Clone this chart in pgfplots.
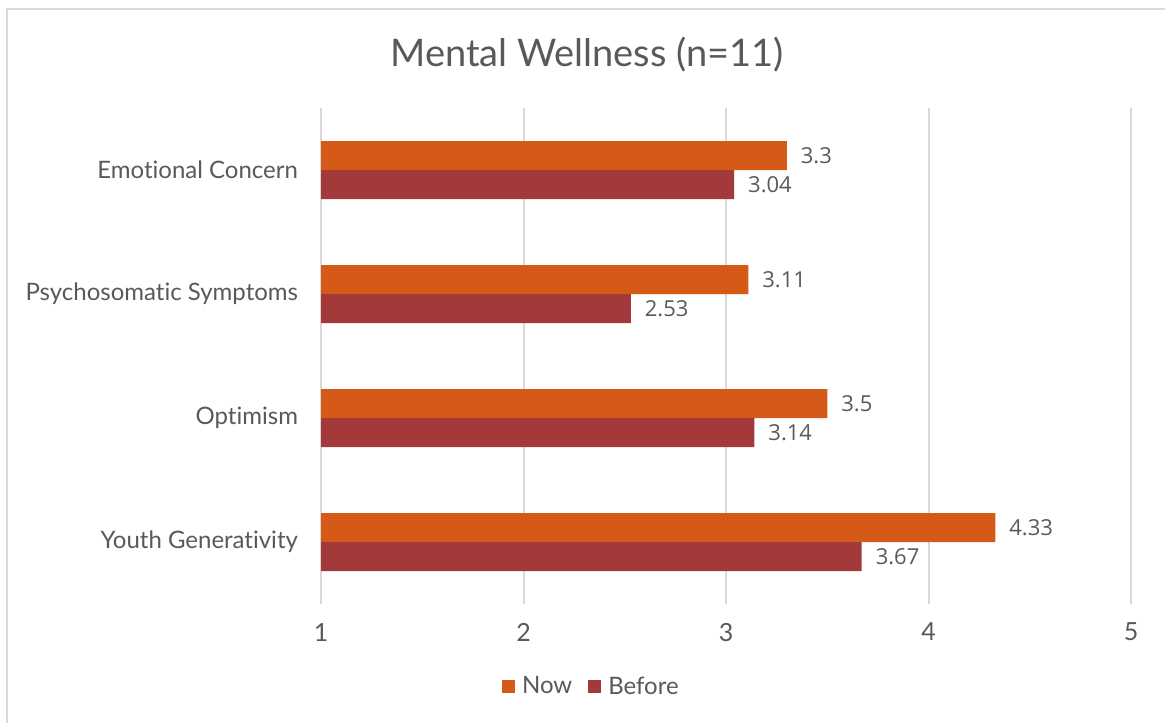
\documentclass[border=0pt]{standalone}
\usepackage{pgfplots}
\pgfplotsset{compat=1.18}
\usepackage{fontspec}
\setmainfont{Lato}[Ligatures={NoCommon,NoRare}]
\newfontfamily\labelfont{Open Sans}
\definecolor{nowc}{HTML}{D55A18}
\definecolor{beforec}{HTML}{A3393A}
\definecolor{gridc}{HTML}{D9D9D9}
\definecolor{textc}{HTML}{595959}
\begin{document}
\begin{tikzpicture}[x=0.5pt,y=0.5pt]
\useasboundingbox (0,0) rectangle (1165,723);
% chart frame
\draw[gridc, line width=1pt] (7,0) -- (7,714) -- (1165,714);
% title
\node[text=textc, font=\fontsize{19}{23}\selectfont] at (587,668) {Mental Wellness (n=11)};
\begin{axis}[
  at={(160.5pt,59.5pt)}, anchor=south west,
  scale only axis, width=405pt, height=248pt,
  xbar, bar width=14.5pt,
  xmin=1, xmax=5, ymin=-0.5, ymax=3.5,
  xtick={1,2,3,4,5},
  ytick={0,1,2,3},
  yticklabels={Youth Generativity, Optimism, Psychosomatic Symptoms, Emotional Concern},
  axis line style={draw=none},
  major tick length=0pt,
  xmajorgrids, grid style={gridc, line width=1pt},
  tick label style={text=textc},
  xticklabel style={font=\fontsize{12.5}{15}\selectfont, yshift=-6pt},
  yticklabel style={font=\fontsize{12}{14}\selectfont, xshift=-8pt},
  nodes near coords,
  every node near coord/.append style={font=\labelfont\fontsize{11}{13}\selectfont, text=textc, xshift=3.5pt},
  /pgf/number format/assume math mode=true,
  legend style={at={(0.335,-0.167)}, anchor=center, draw=none, legend columns=2,
    font=\fontsize{12}{14}\selectfont, text=textc,
    /tikz/every odd column/.append style={column sep=1.5pt},
    /tikz/every even column/.append style={column sep=6pt}},
  legend image code/.code={\fill[#1] (0pt,-3.25pt) rectangle (6.5pt,3.25pt);},
  clip=true,
]
\addplot[fill=nowc, draw=none, bar shift=7.25pt] coordinates {(4.33,0) (3.5,1) (3.11,2) (3.3,3)};
\addplot[fill=beforec, draw=none, bar shift=-7.25pt] coordinates {(3.67,0) (3.14,1) (2.53,2) (3.04,3)};
\legend{Now, Before}
\end{axis}
\end{tikzpicture}
\end{document}
